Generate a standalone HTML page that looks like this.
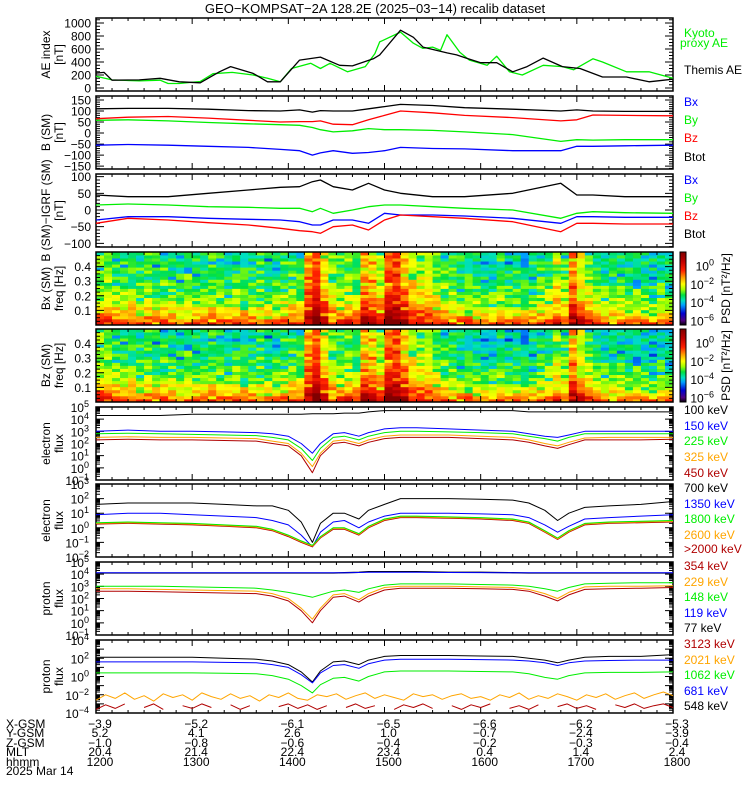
<!DOCTYPE html>
<html><head><meta charset="utf-8"><title>GEO-KOMPSAT-2A summary</title>
<style>
html,body{margin:0;padding:0;background:#fff;}
svg{display:block;font-family:"Liberation Sans",sans-serif;}
text{font-size:12px;}
</style></head>
<body>
<svg id="chart" width="750" height="800" viewBox="0 0 750 800" xmlns="http://www.w3.org/2000/svg">
<text x="375" y="13" text-anchor="middle" style="font-size:13px">GEO−KOMPSAT−2A 128.2E (2025−03−14) recalib dataset</text>
</svg>
<script>
// ---------- data ----------
const aeBlackT=[0,5,10,27,40,52,65,77,84,98,107,115,127,140,152,160,173,177,190,198,204,219,225,231,240,250,260,269,279,291,302,316,331,345,360];
const aeBlackV=[230,240,120,125,150,95,80,250,330,225,95,95,430,475,350,340,450,510,890,780,630,540,510,460,390,390,250,330,460,330,300,170,170,95,135];
const aeGreenT=[0,10,27,40,45,52,65,73,85,98,107,115,122,134,140,146,157,168,174,177,190,198,204,210,215,219,227,233,244,250,258,266,279,291,298,310,316,331,345,360];
const aeGreenV=[180,125,110,120,70,70,100,220,240,200,150,95,300,380,300,380,250,330,530,710,860,690,610,630,580,820,550,430,350,490,250,200,350,330,280,450,400,250,250,150];

const bT=[0,20,45,70,95,115,127,135,140,148,160,170,180,190,210,230,260,290,300,310,330,360];
const bTot=[110,112,112,108,102,100,105,95,102,100,100,110,120,130,125,115,108,100,105,100,98,98];
const bZ=[65,72,75,68,58,50,52,52,55,40,38,60,80,100,92,80,70,55,60,82,80,78];
const bY=[58,60,55,48,42,38,35,25,15,5,10,20,15,15,12,5,-7,-38,-30,-32,-30,-30];
const bX=[-55,-52,-55,-60,-65,-74,-80,-100,-90,-80,-92,-88,-80,-65,-70,-72,-80,-80,-60,-60,-58,-55];

const dTot=[45,40,40,50,60,68,70,85,90,70,60,80,60,50,40,40,50,80,45,45,40,40];
const dY=[15,18,15,10,8,5,5,-5,5,-10,0,10,15,15,10,5,0,-25,-10,-5,-8,-10];
const dX=[-30,-20,-20,-25,-28,-30,-35,-45,-45,-30,-30,-40,-10,-15,-15,-18,-25,-40,-20,-20,-22,-22];
const dZ=[-40,-25,-30,-38,-45,-55,-62,-65,-70,-50,-45,-60,-30,-15,-20,-25,-35,-65,-40,-40,-42,-42];

// spectrogram column levels (log10 PSD, 5-min columns)
const specBx=[-3.0,-2.9,-3.1,-3.2,-3.0,-3.3,-3.2,-3.4,-3.1,-3.3,-3.5,-3.2,-3.4,-3.3,-3.1,-3.4,-3.5,-3.2,-3.3,-3.4,-3.2,-3.5,-3.3,-3.1,-3.0,-3.3,-1.3,-0.8,-1.8,-2.8,-3.0,-2.8,-3.0,-1.4,-1.4,-2.4,-0.8,-0.6,-1.4,-2.2,-2.4,-2.6,-2.8,-3.0,-3.2,-3.4,-3.3,-3.5,-3.4,-3.6,-3.3,-3.5,-3.4,-3.6,-3.4,-3.3,-3.1,-2.2,-3.0,-1.2,-2.2,-2.7,-3.2,-3.4,-3.5,-3.3,-3.6,-3.4,-3.5,-3.6,-3.4,-3.5];
const specBz=[-2.8,-3.0,-3.1,-3.3,-3.1,-3.4,-3.3,-3.5,-3.2,-3.4,-3.6,-3.3,-3.5,-3.4,-3.2,-3.5,-3.6,-3.3,-3.4,-3.5,-3.3,-3.6,-3.4,-3.2,-3.1,-3.3,-1.4,-0.9,-1.9,-2.9,-3.1,-2.9,-3.1,-1.5,-1.4,-2.5,-0.9,-0.7,-1.5,-2.4,-2.6,-2.8,-3.0,-3.2,-3.4,-3.6,-3.5,-3.7,-3.6,-3.8,-3.5,-3.7,-3.6,-3.8,-3.6,-3.5,-3.3,-2.5,-3.2,-1.4,-2.4,-2.9,-3.4,-3.6,-3.7,-3.5,-3.8,-3.6,-3.7,-3.8,-3.6,-3.7];
const freqProfile=[2.7,2.3,1.9,1.6,1.35,1.15,0.95,0.8,0.65,0.55,0.45,0.35,0.3,0.2,0.15,0.1,0.05,0,0,-0.05,-0.05,-0.1,-0.1,-0.1];
const texture=[0.3,-0.5,0.1,0.6,-0.2,-0.8,0.4,0,-0.4,0.7,-0.1,0.2,-0.6,0.5,-0.3,0.1,-1.2,0.3,-0.2];

const fT=[0,20,40,60,80,100,110,120,128,135,140,148,155,164,170,180,190,200,220,240,260,270,280,288,295,305,320,340,360];
const e100=[4.3,4.3,4.3,4.4,4.4,4.4,4.4,4.4,4.4,4.45,4.45,4.45,4.5,4.5,4.6,4.7,4.7,4.7,4.7,4.7,4.7,4.6,4.6,4.6,4.6,4.6,4.6,4.6,4.6];
const e150=[3.0,3.1,3.0,3.0,2.95,2.9,2.8,2.6,2.0,1.2,2.0,2.8,2.9,2.6,2.9,3.2,3.3,3.3,3.2,3.1,3.0,2.8,2.6,2.5,2.7,3.0,3.0,3.0,3.0];
const e225=[2.8,2.85,2.8,2.75,2.7,2.65,2.5,2.3,1.6,0.6,1.6,2.5,2.6,2.3,2.6,2.9,3.0,3.0,2.95,2.9,2.8,2.6,2.4,2.2,2.5,2.8,2.8,2.8,2.8];
const e325=[2.5,2.55,2.5,2.5,2.45,2.4,2.2,2.0,1.2,0.1,1.2,2.2,2.3,2.0,2.3,2.6,2.7,2.7,2.7,2.6,2.5,2.3,2.0,1.8,2.1,2.45,2.5,2.5,2.5];
const e450=[2.3,2.35,2.3,2.3,2.25,2.2,2.0,1.8,1.0,-0.4,1.0,2.0,2.1,1.8,2.1,2.4,2.5,2.5,2.5,2.4,2.3,2.1,1.8,1.6,1.9,2.3,2.3,2.3,2.35];

const e700=[1.6,1.7,1.7,1.7,1.6,1.5,1.5,1.2,0.4,-1.0,0.3,1.0,1.0,0.6,1.2,1.6,2.0,2.0,2.0,1.95,1.9,1.7,1.2,0.5,1.0,1.4,1.5,1.6,1.8];
const e1350=[0.9,1.0,1.0,0.9,0.8,0.7,0.5,0.2,-0.5,-1.3,-0.3,0.4,0.5,0.0,0.4,0.8,1.0,1.0,1.0,0.95,0.9,0.7,0.2,-0.3,0.1,0.6,0.7,0.8,0.9];
const e1800=[0.35,0.4,0.35,0.3,0.2,0.1,-0.1,-0.5,-0.9,-1.2,-0.6,0.0,0.0,-0.4,0.1,0.6,0.8,0.8,0.75,0.7,0.6,0.4,-0.2,-0.7,-0.2,0.3,0.4,0.45,0.5];
const e2600=[0.3,0.35,0.3,0.25,0.15,0.05,-0.15,-0.55,-0.95,-1.25,-0.65,-0.05,-0.05,-0.45,0.05,0.55,0.75,0.75,0.7,0.65,0.55,0.35,-0.25,-0.75,-0.25,0.25,0.35,0.4,0.45];
const e2000=[0.25,0.3,0.25,0.2,0.1,0.0,-0.2,-0.6,-1.0,-1.3,-0.7,-0.1,-0.1,-0.5,0.0,0.5,0.7,0.7,0.65,0.6,0.5,0.3,-0.3,-0.8,-0.3,0.2,0.3,0.35,0.4];

const p77=[4.1,4.1,4.1,4.1,4.1,4.1,4.1,4.1,4.1,4.1,4.1,4.1,4.12,4.15,4.2,4.2,4.2,4.2,4.15,4.15,4.12,4.1,4.1,4.1,4.1,4.1,4.1,4.1,4.1];
const p119=[4.12,4.12,4.12,4.12,4.12,4.12,4.12,4.12,4.12,4.12,4.12,4.12,4.12,4.14,4.16,4.16,4.16,4.15,4.14,4.13,4.12,4.12,4.12,4.12,4.12,4.12,4.12,4.12,4.12];
const p148=[3.0,3.0,3.0,2.95,2.9,2.85,2.7,2.5,2.3,2.1,2.3,2.6,2.7,2.5,2.8,3.1,3.2,3.2,3.2,3.15,3.1,3.0,2.8,2.6,2.9,3.2,3.25,3.3,3.3];
const p229=[2.8,2.8,2.75,2.7,2.65,2.6,2.4,2.0,1.2,0.3,1.2,2.3,2.4,1.9,2.4,2.9,3.0,3.0,3.0,2.95,2.9,2.75,2.4,2.0,2.5,2.95,3.0,3.0,3.05];
const p354=[2.6,2.6,2.55,2.5,2.45,2.4,2.2,1.8,1.0,0.0,1.0,2.1,2.2,1.7,2.2,2.7,2.85,2.85,2.85,2.8,2.75,2.6,2.2,1.8,2.3,2.75,2.8,2.85,2.9];

const p548=[2.1,2.1,2.1,2.1,2.0,1.9,1.7,1.3,0.5,-0.6,0.6,1.6,1.7,1.3,1.8,2.2,2.3,2.3,2.3,2.25,2.2,2.0,1.8,1.5,1.8,2.1,2.2,2.2,2.4];
const p681=[1.6,1.6,1.6,1.6,1.55,1.5,1.3,1.0,0.2,-0.7,0.4,1.2,1.3,0.9,1.4,1.8,1.9,1.9,1.9,1.85,1.8,1.7,1.5,1.2,1.5,1.7,1.75,1.8,1.8];
const p1062=[0.4,0.4,0.4,0.4,0.35,0.3,0.1,-0.3,-1.0,-1.8,-0.9,-0.2,-0.1,-0.5,0.0,0.5,0.6,0.6,0.6,0.55,0.5,0.3,-0.1,-0.3,0.1,0.4,0.45,0.45,0.5];
const p2021=[-2.6,-2.0,-2.4,-1.8,-2.5,-2.1,-2.7,-1.9,-2.3,-2.0,-2.6,-1.8,-2.2,-2.5,-1.9,-2.4,-2.1,-2.7,-2.0,-2.3,-1.8,-2.4,-2.6,-2.0,-2.2,-1.9,-2.5,-2.1,-1.8,-2.4,-2.0,-2.3,-2.6,-1.9,-2.2,-2.0,-2.5,-2.1,-1.9,-2.4,-2.2,-2.6,-2.0,-2.3,-1.8,-2.5,-2.1,-2.4,-1.9,-2.2,-2.6,-2.0,-2.3,-1.9,-2.5,-2.1,-1.8,-2.4,-2.0,-1.7,-2.1];
const p3123=[-3.6,-3.1,-3.5,-3.0,null,-3.4,-3.0,-3.6,null,-3.2,-3.5,-3.0,-3.4,null,-3.1,-3.6,-3.2,null,null,-3.3,-3.0,-3.5,-3.1,-3.6,-3.2,null,-3.4,-3.0,-3.5,-3.2,null,-3.6,-3.1,-3.4,-3.0,-3.5,null,-3.2,-3.6,-3.1,-3.4,-3.0,null,-3.5,-3.2,-3.6,-3.1,null,-3.3,-3.0,-3.5,-3.2,-3.6,null,-3.1,-3.4,-3.0,-3.5,-3.2,-3.0,-3.4];

const hourLabels=['1200','1300','1400','1500','1600','1700','1800'];
const ephX=['−3.9','−5.2','−6.1','−6.5','−6.6','−6.2','−5.3'];
const ephY=['5.2','4.1','2.6','1.0','−0.7','−2.4','−3.9'];
const ephZ=['−1.0','−0.8','−0.6','−0.4','−0.2','−0.3','−0.4'];
const ephMLT=['20.4','21.4','22.4','23.4','0.4','1.4','2.4'];

// ---------- drawing ----------
const svg=document.getElementById('chart');
const NS='http://www.w3.org/2000/svg';
const X0=96,X1=673,PH=73;
const tops=[18,96,174,252,329,407,484,562,640];
const xs=t=>X0+t/360*(X1-X0);
const GREEN='#00ee00',BLUE='#0000ff',RED='#ff0000',ORANGE='#ffa500',DRED='#b00000',BLACK='#000';

function el(tag,attrs,parent){const e=document.createElementNS(NS,tag);for(const k in attrs)e.setAttribute(k,attrs[k]);(parent||svg).appendChild(e);return e;}
function txt(x,y,s,name,opts){
  const t=el('text',Object.assign({x:x,y:y},opts||{}));
  t.textContent=s;
  
  
  return t;
}
function supTxt(x,y,base,exp,name,fill){
  const t=el('text',{x:x,y:y,'text-anchor':'end',fill:fill||'#000'});
  
  
  const a=document.createElementNS(NS,'tspan');a.textContent=base;t.appendChild(a);
  const b=document.createElementNS(NS,'tspan');b.textContent=exp;b.setAttribute('dy','-5');b.setAttribute('style','font-size:9px');t.appendChild(b);
  return t;
}
function series(T,V,ys,color,name,w){
  let d='',pen=false;
  for(let i=0;i<T.length;i++){
    if(V[i]===null||V[i]===undefined){pen=false;continue;}
    d+=(pen?'L':'M')+xs(T[i]).toFixed(1)+','+ys(V[i]).toFixed(1);pen=true;
  }
  const p=el('path',{d:d,fill:'none',stroke:color,'stroke-width':w||1.3,'stroke-linejoin':'round'});
  
  
  return p;
}
function frame(i,name){
  const r=el('rect',{x:X0,y:tops[i],width:X1-X0,height:PH,fill:'none',stroke:'#000','stroke-width':1.5});
  
  
  let d='';
  for(let m=0;m<=360;m+=10){const x=xs(m),L=(m%60===0)?6:3;d+=`M${x},${tops[i]}v${L}M${x},${tops[i]+PH}v${-L}`;}
  const tk=el('path',{d:d,stroke:'#000','stroke-width':1,fill:'none'});
  
  
}
function linAxis(i,min,max,majStep,minStep,fmt){
  const top=tops[i];
  const ys=v=>top+PH-(v-min)/(max-min)*PH;
  let d='';
  const s0=Math.ceil(min/minStep)*minStep;
  for(let v=s0;v<=max+1e-9;v+=minStep){
    const y=ys(v),maj=Math.abs(v/majStep-Math.round(v/majStep))<1e-6,L=maj?8:4;
    d+=`M${X0},${y}h${L}M${X1},${y}h${-L}`;
  }
  const tk=el('path',{d:d,stroke:'#000','stroke-width':1,fill:'none'});
  
  
  const m0=Math.ceil(min/majStep)*majStep;
  for(let v=m0;v<=max+1e-9;v+=majStep){
    txt(91,ys(v)+4.5,fmt(v),'y-tick-label',{'text-anchor':'end'});
  }
  return ys;
}
function logAxis(i,lo,hi,labStep){
  const top=tops[i];
  const ys=v=>top+PH-(v-lo)/(hi-lo)*PH;
  let d='';
  for(let e=lo;e<hi;e++){
    for(let k=1;k<10;k++){const y=ys(e+Math.log10(k)),L=k===1?8:4;d+=`M${X0},${y}h${L}M${X1},${y}h${-L}`;}
  }
  d+=`M${X0},${ys(hi)}h8M${X1},${ys(hi)}h-8`;
  const tk=el('path',{d:d,stroke:'#000','stroke-width':1,fill:'none'});
  
  
  for(let e=lo;e<=hi;e+=(labStep||1)){
    const e_s=e<0?'−'+(-e):''+e;
    supTxt(89,ys(e)+5,'10',e_s,'y-tick-label');
  }
  return ys;
}
function yTitle(i,lines,name){
  const cy=tops[i]+PH/2;
  const g=el('g',{transform:`translate(0,${cy}) rotate(-90)`});
  
  
  const xs0=[50,63];
  lines.forEach((s,k)=>{
    const t=el('text',{x:0,y:xs0[k],'text-anchor':'middle'},g);
    t.textContent=s;
    
    
  });
}
function legend(x,y,s,color,name){txt(x,y,s,name,{fill:color});}

// Panel 1 AE
frame(0,'ae-panel-frame');
let ys=linAxis(0,-46,1077,200,50,v=>''+v);
yTitle(0,['AE index','[nT]'],'ae-y-axis-title');
series(aeGreenT,aeGreenV,ys,GREEN,'kyoto-proxy-ae-line',1.3);
series(aeBlackT,aeBlackV,ys,BLACK,'themis-ae-line',1.3);
legend(684,37,'Kyoto',GREEN,'legend-kyoto');
legend(680,47,'proxy AE',GREEN,'legend-proxy-ae');
legend(684,74,'Themis AE',BLACK,'legend-themis-ae');

// Panel 2 B(SM)
frame(1,'b-sm-panel-frame');
ys=linAxis(1,-163,168,50,10,v=>(v<0?'−'+(-v):''+v));
yTitle(1,['B (SM)','[nT]'],'b-sm-y-axis-title');
series(bT,bTot,ys,BLACK,'b-sm-btot-line');
series(bT,bZ,ys,RED,'b-sm-bz-line');
series(bT,bY,ys,GREEN,'b-sm-by-line');
series(bT,bX,ys,BLUE,'b-sm-bx-line');
legend(684,106,'Bx',BLUE,'legend-bx');legend(684,124,'By',GREEN,'legend-by');
legend(684,142,'Bz',RED,'legend-bz');legend(684,161,'Btot',BLACK,'legend-btot');

// Panel 3 B - IGRF
frame(2,'b-igrf-panel-frame');
ys=linAxis(2,-111,108,50,10,v=>(v<0?'−'+(-v):''+v));
yTitle(2,['B (SM)−IGRF (SM)','[nT]'],'b-igrf-y-axis-title');
series(bT,dTot,ys,BLACK,'b-igrf-btot-line');
series(bT,dY,ys,GREEN,'b-igrf-by-line');
series(bT,dX,ys,BLUE,'b-igrf-bx-line');
series(bT,dZ,ys,RED,'b-igrf-bz-line');
legend(684,184,'Bx',BLUE,'legend-bx-2');legend(684,202,'By',GREEN,'legend-by-2');
legend(684,220,'Bz',RED,'legend-bz-2');legend(684,238,'Btot',BLACK,'legend-btot-2');

// colormap
const cStops=[[-6.5,[0,0,0]],[-6,[80,0,128]],[-5.2,[0,0,210]],[-4.3,[0,160,255]],[-3.8,[0,224,192]],[-3.2,[0,224,64]],[-2.6,[160,255,0]],[-2.0,[255,255,0]],[-1.3,[255,160,0]],[-0.5,[255,32,0]],[0.5,[192,0,0]],[1.5,[128,0,0]]];
function cmap(v){
  if(v<=cStops[0][0])return 'rgb(0,0,0)';
  for(let k=1;k<cStops.length;k++){
    if(v<=cStops[k][0]){const a=cStops[k-1],b=cStops[k],f=(v-a[0])/(b[0]-a[0]);
      return 'rgb('+a[1].map((c,j)=>Math.round(c+(b[1][j]-c)*f)).join(',')+')';}
  }
  return 'rgb(128,0,0)';
}
function spectrogram(i,cols,name,title){
  const top=tops[i],nc=cols.length,nr=freqProfile.length;
  const g=el('g',{});
  
  
  const cw=(X1-X0)/nc,rh=PH/nr;
  for(let c=0;c<nc;c++)for(let r=0;r<nr;r++){
    const v=cols[c]+freqProfile[r]+texture[(c*5+r*3+(c*r)%7)%texture.length];
    const rc=el('rect',{x:(X0+c*cw).toFixed(2),y:(top+PH-(r+1)*rh).toFixed(2),width:(cw+0.4).toFixed(2),height:(rh+0.4).toFixed(2),fill:cmap(v)},g);
    
    
  }
  frame(i,name+'-frame');
  linAxis(i,0,0.5,0.1,0.025,v=>(v>0.05&&v<0.45)?v.toFixed(1):'');
  yTitle(i,[title,'freq [Hz]'],name+'-y-axis-title');
  const cb=el('g',{});
  
  
  const cbLo=-6.5,cbHi=1.5,cy=v=>top+PH-(v-cbLo)/(cbHi-cbLo)*PH;
  for(let k=0;k<PH;k++){
    const v=cbLo+(k+0.5)/PH*(cbHi-cbLo);
    const r=el('rect',{x:680,y:top+PH-k-1,width:6,height:1.2,fill:cmap(v)},cb);
    
    
  }
  const fr=el('rect',{x:680,y:top,width:6,height:PH,fill:'none',stroke:'#000','stroke-width':1},cb);
  
  
  [0,-2,-4,-6].forEach(e=>{supTxt(714,cy(e)+5,'10',e<0?'−'+(-e):''+e,'colorbar-tick-label');});
  const t=el('text',{transform:`translate(730,${top+PH/2}) rotate(-90)`,'text-anchor':'middle'});
  t.textContent='PSD [nT²/Hz]';
  
  
}
spectrogram(3,specBx,'bx-spectrogram','Bx (SM)');
spectrogram(4,specBz,'bz-spectrogram','Bz (SM)');

// Panel 6 electron flux low
frame(5,'electron-flux-low-frame');
ys=logAxis(5,-1,5,1);
yTitle(5,['electron','flux'],'electron-flux-low-y-axis-title');
series(fT,e100,ys,BLACK,'electron-100kev-line',1);
series(fT,e150,ys,BLUE,'electron-150kev-line',1);
series(fT,e225,ys,GREEN,'electron-225kev-line',1);
series(fT,e325,ys,ORANGE,'electron-325kev-line',1);
series(fT,e450,ys,DRED,'electron-450kev-line',1);
legend(684,414,'100 keV',BLACK,'legend-100kev');legend(684,430,'150 keV',BLUE,'legend-150kev');
legend(684,445,'225 keV',GREEN,'legend-225kev');legend(684,461,'325 keV',ORANGE,'legend-325kev');
legend(684,477,'450 keV',DRED,'legend-450kev');

// Panel 7 electron flux high
frame(6,'electron-flux-high-frame');
ys=logAxis(6,-2,3,1);
yTitle(6,['electron','flux'],'electron-flux-high-y-axis-title');
series(fT,e700,ys,BLACK,'electron-700kev-line',1);
series(fT,e1350,ys,BLUE,'electron-1350kev-line',1);
series(fT,e2000,ys,DRED,'electron-2000kev-line',1);
series(fT,e2600,ys,ORANGE,'electron-2600kev-line',1);
series(fT,e1800,ys,GREEN,'electron-1800kev-line',1);
legend(684,492,'700 keV',BLACK,'legend-700kev');legend(684,508,'1350 keV',BLUE,'legend-1350kev');
legend(684,523,'1800 keV',GREEN,'legend-1800kev');legend(684,539,'2600 keV',ORANGE,'legend-2600kev');
legend(684,553,'>2000 keV',DRED,'legend-gt2000kev');

// Panel 8 proton flux low
frame(7,'proton-flux-low-frame');
ys=logAxis(7,-1,5,1);
yTitle(7,['proton','flux'],'proton-flux-low-y-axis-title');
series(fT,p77,ys,BLACK,'proton-77kev-line',1.3);
series(fT,p119,ys,BLUE,'proton-119kev-line',1);
series(fT,p148,ys,GREEN,'proton-148kev-line',1);
series(fT,p229,ys,ORANGE,'proton-229kev-line',1);
series(fT,p354,ys,DRED,'proton-354kev-line',1);
legend(684,570,'354 keV',DRED,'legend-354kev');legend(684,586,'229 keV',ORANGE,'legend-229kev');
legend(684,601,'148 keV',GREEN,'legend-148kev');legend(684,617,'119 keV',BLUE,'legend-119kev');
legend(684,632,'77 keV',BLACK,'legend-77kev');

// Panel 9 proton flux high
frame(8,'proton-flux-high-frame');
ys=logAxis(8,-4,4,2);
yTitle(8,['proton','flux'],'proton-flux-high-y-axis-title');
series(fT,p548,ys,BLACK,'proton-548kev-line',1);
series(fT,p681,ys,BLUE,'proton-681kev-line',1);
series(fT,p1062,ys,GREEN,'proton-1062kev-line',1);
const nT=p2021.map((_,k)=>k*6);
series(nT,p2021,ys,ORANGE,'proton-2021kev-line',1);
series(nT,p3123,ys,DRED,'proton-3123kev-line',1);
legend(684,648,'3123 keV',DRED,'legend-3123kev');legend(684,664,'2021 keV',ORANGE,'legend-2021kev');
legend(684,679,'1062 keV',GREEN,'legend-1062kev');legend(684,695,'681 keV',BLUE,'legend-681kev');
legend(684,710,'548 keV',BLACK,'legend-548kev');

// ephemeris
const rows=[['X-GSM',ephX,728],['Y-GSM',ephY,737],['Z-GSM',ephZ,747],['MLT',ephMLT,756],['hhmm',hourLabels,766]];
rows.forEach(r=>{
  txt(6,r[2],r[0],'ephemeris-row-label-'+r[0].toLowerCase());
  r[1].forEach((s,k)=>{txt(xs(k*60)+4,r[2],s,'ephemeris-value',{'text-anchor':'middle'});});
});
txt(6,775,'2025 Mar 14','date-label');
</script>
</body></html>
